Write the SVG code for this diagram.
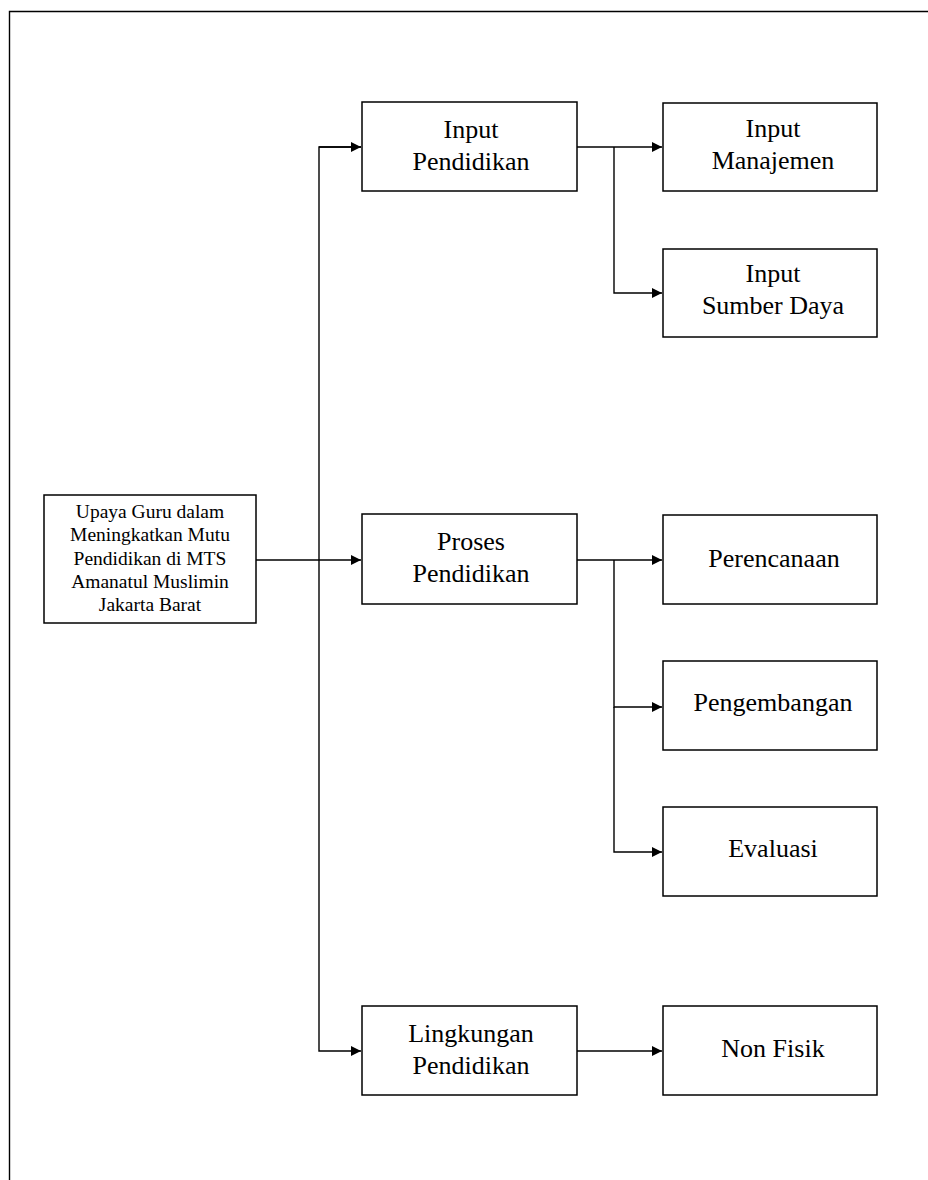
<svg xmlns="http://www.w3.org/2000/svg" width="928" height="1180" viewBox="0 0 928 1180">
<style>
.box{fill:#fff;stroke:#000;stroke-width:1.5}
.ln{fill:none;stroke:#000;stroke-width:1.4}
.t{font-family:"Liberation Serif","Times New Roman",serif;font-size:26px;fill:#000;text-anchor:middle}
.ts{font-family:"Liberation Serif","Times New Roman",serif;font-size:19.5px;fill:#000;text-anchor:middle}
</style>
<defs>
<marker id="ah" markerUnits="userSpaceOnUse" markerWidth="11" markerHeight="10" refX="10" refY="5" orient="auto">
<path d="M0,0 L10,5 L0,10 z" fill="#000"/>
</marker>
</defs>
<rect width="928" height="1180" fill="#fff"/>
<path class="ln" d="M9.5,1180 V11.5 H928" stroke-width="1.6"/>
<g id="connectors">
<path class="ln" d="M256,560 H361" marker-end="url(#ah)"/>
<path class="ln" d="M361,147 H319 V1051 H361" marker-end="url(#ah)"/>
<path class="ln" d="M319,147 H361" marker-end="url(#ah)"/>
<path class="ln" d="M577,147 H662" marker-end="url(#ah)"/>
<path class="ln" d="M614,147 V293 H662" marker-end="url(#ah)"/>
<path class="ln" d="M577,560 H662" marker-end="url(#ah)"/>
<path class="ln" d="M614,560 V707 H662" marker-end="url(#ah)"/>
<path class="ln" d="M614,707 V852 H662" marker-end="url(#ah)"/>
<path class="ln" d="M577,1051 H662" marker-end="url(#ah)"/>
</g>
<g id="main">
<rect class="box" x="44" y="495" width="212" height="128"/>
<text class="ts" x="150" y="518">Upaya Guru dalam</text>
<text class="ts" x="150" y="541">Meningkatkan Mutu</text>
<text class="ts" x="150" y="565">Pendidikan di MTS</text>
<text class="ts" x="150" y="588">Amanatul Muslimin</text>
<text class="ts" x="150" y="611">Jakarta Barat</text>
</g>
<g id="input-pendidikan">
<rect class="box" x="362" y="102" width="215" height="89"/>
<text class="t" x="471" y="138">Input</text>
<text class="t" x="471" y="170">Pendidikan</text>
</g>
<g id="proses-pendidikan">
<rect class="box" x="362" y="514" width="215" height="90"/>
<text class="t" x="471" y="550">Proses</text>
<text class="t" x="471" y="582">Pendidikan</text>
</g>
<g id="lingkungan-pendidikan">
<rect class="box" x="362" y="1006" width="215" height="89"/>
<text class="t" x="471" y="1042">Lingkungan</text>
<text class="t" x="471" y="1074">Pendidikan</text>
</g>
<g id="input-manajemen">
<rect class="box" x="663" y="103" width="214" height="88"/>
<text class="t" x="773" y="137">Input</text>
<text class="t" x="773" y="169">Manajemen</text>
</g>
<g id="input-sumber-daya">
<rect class="box" x="663" y="249" width="214" height="88"/>
<text class="t" x="773" y="282">Input</text>
<text class="t" x="773" y="314">Sumber Daya</text>
</g>
<g id="perencanaan">
<rect class="box" x="663" y="515" width="214" height="89"/>
<text class="t" x="774" y="567">Perencanaan</text>
</g>
<g id="pengembangan">
<rect class="box" x="663" y="661" width="214" height="89"/>
<text class="t" x="773" y="711">Pengembangan</text>
</g>
<g id="evaluasi">
<rect class="box" x="663" y="807" width="214" height="89"/>
<text class="t" x="773" y="857">Evaluasi</text>
</g>
<g id="non-fisik">
<rect class="box" x="663" y="1006" width="214" height="89"/>
<text class="t" x="773" y="1057">Non Fisik</text>
</g>
</svg>
